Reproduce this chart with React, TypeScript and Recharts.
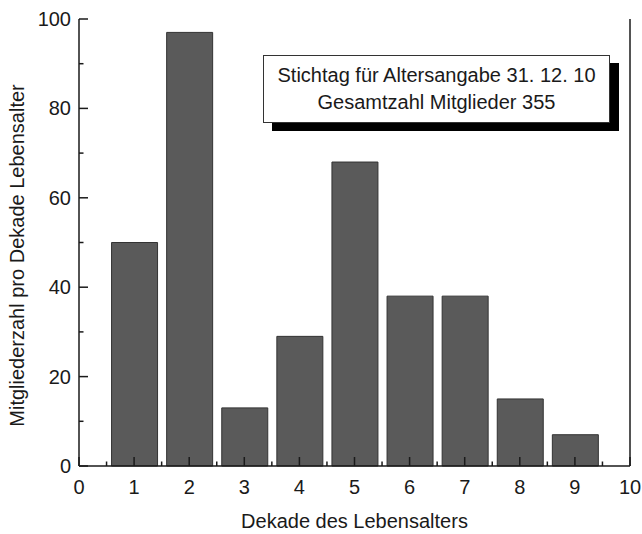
import React from 'react';
import { BarChart, Bar, XAxis, YAxis } from 'recharts';

// Dekade des Lebensalters -> Mitgliederzahl
const decades = [1, 2, 3, 4, 5, 6, 7, 8, 9];
const members = [50, 97, 13, 29, 68, 38, 38, 15, 7];

const xTicks = [0, 0.5, 1, 1.5, 2, 2.5, 3, 3.5, 4, 4.5, 5, 5.5, 6, 6.5, 7, 7.5, 8, 8.5, 9, 9.5, 10];
const yTicks = [0, 10, 20, 30, 40, 50, 60, 70, 80, 90, 100];
const yLabelTicks = [0, 20, 40, 60, 80, 100];

const infoLines = ['Stichtag für Altersangabe 31. 12. 10', 'Gesamtzahl Mitglieder 355'];

const FONT = '"Liberation Sans", Arial, sans-serif';
const INK = '#1a1a1a';
const FS = 20;

const data = decades.map((d, i) => ({ decade: d, count: members[i] }));

type Side = 'bottom' | 'top' | 'left' | 'right';

function makeTick(side: Side) {
  return function Tick(props: any) {
    const { x, y, payload } = props;
    const v = payload.value as number;
    const vertical = side === 'left' || side === 'right';
    const major = vertical ? yLabelTicks.includes(v) : Number.isInteger(v);
    const len = major ? 9 : 4.5;
    if (side === 'bottom') {
      return (
        <g>
          <line x1={x} y1={y} x2={x} y2={y - len} stroke={INK} strokeWidth={1.5} />
          {major && (
            <text x={x} y={y + 28} textAnchor="middle" fontSize={FS} fontFamily={FONT} fill={INK}>
              {v}
            </text>
          )}
        </g>
      );
    }
    if (side === 'top') {
      return <line x1={x} y1={y} x2={x} y2={y + len} stroke={INK} strokeWidth={1.5} />;
    }
    if (side === 'left') {
      return (
        <g>
          <line x1={x} y1={y} x2={x + len} y2={y} stroke={INK} strokeWidth={1.5} />
          {major && (
            <text x={x - 8} y={y + 7} textAnchor="end" fontSize={FS} fontFamily={FONT} fill={INK}>
              {v}
            </text>
          )}
        </g>
      );
    }
    return <line x1={x} y1={y} x2={x - len} y2={y} stroke={INK} strokeWidth={1.5} />;
  };
}

function YTitle(props: any) {
  const { viewBox } = props;
  const cx = viewBox.x + 17;
  const cy = viewBox.y + viewBox.height / 2 + 13;
  return (
    <text
      x={cx}
      y={cy}
      transform={`rotate(-90 ${cx} ${cy})`}
      textAnchor="middle"
      dominantBaseline="central"
      fontSize={FS}
      fontFamily={FONT}
      fill={INK}
    >
      Mitgliederzahl pro Dekade Lebensalter
    </text>
  );
}

const axisLine = { stroke: INK, strokeWidth: 1.5 };

export default function App() {
  return (
    <div style={{ position: 'absolute', left: 0, top: 0, width: 642, height: 534, background: '#fff' }}>
      <BarChart
        width={642}
        height={534}
        data={data}
        margin={{ top: 19, right: 0, bottom: 0, left: 0 }}
        barSize={46}
      >
        <XAxis
          xAxisId="b"
          dataKey="decade"
          type="number"
          domain={[0, 10]}
          ticks={xTicks}
          interval={0}
          height={68}
          tickLine={false}
          tickSize={0}
          tickMargin={0}
          axisLine={axisLine}
          tick={makeTick('bottom')}
          label={{
            value: 'Dekade des Lebensalters',
            position: 'insideBottom',
            offset: 6,
            style: { fontSize: FS, fontFamily: FONT, fill: INK },
          }}
        />
        <XAxis
          xAxisId="t"
          orientation="top"
          dataKey="decade"
          type="number"
          domain={[0, 10]}
          ticks={xTicks}
          interval={0}
          height={0}
          tickLine={false}
          tickSize={0}
          tickMargin={0}
          axisLine={axisLine}
          tick={makeTick('top')}
        />
        <YAxis
          yAxisId="l"
          type="number"
          domain={[0, 100]}
          ticks={yTicks}
          interval={0}
          width={79}
          tickLine={false}
          tickSize={0}
          tickMargin={0}
          axisLine={axisLine}
          tick={makeTick('left')}
          label={<YTitle />}
        />
        <YAxis
          yAxisId="r"
          orientation="right"
          type="number"
          domain={[0, 100]}
          ticks={yTicks}
          interval={0}
          width={12}
          tickLine={false}
          tickSize={0}
          tickMargin={0}
          axisLine={axisLine}
          tick={makeTick('right')}
        />
        <Bar
          xAxisId="b"
          yAxisId="l"
          dataKey="count"
          fill="#5a5a5a"
          stroke="#333"
          strokeWidth={1}
          isAnimationActive={false}
        />
      </BarChart>
      <div
        style={{
          position: 'absolute',
          left: 263,
          top: 55,
          width: 345,
          height: 66,
          border: '1px solid #333',
          background: '#fff',
          boxShadow: '9px 8px 0 #000',
          fontFamily: FONT,
          fontSize: FS,
          color: INK,
          textAlign: 'center',
          display: 'flex',
          flexDirection: 'column',
          justifyContent: 'center',
          lineHeight: '27px',
        }}
      >
        {infoLines.map((t) => (
          <div key={t}>{t}</div>
        ))}
      </div>
    </div>
  );
}
